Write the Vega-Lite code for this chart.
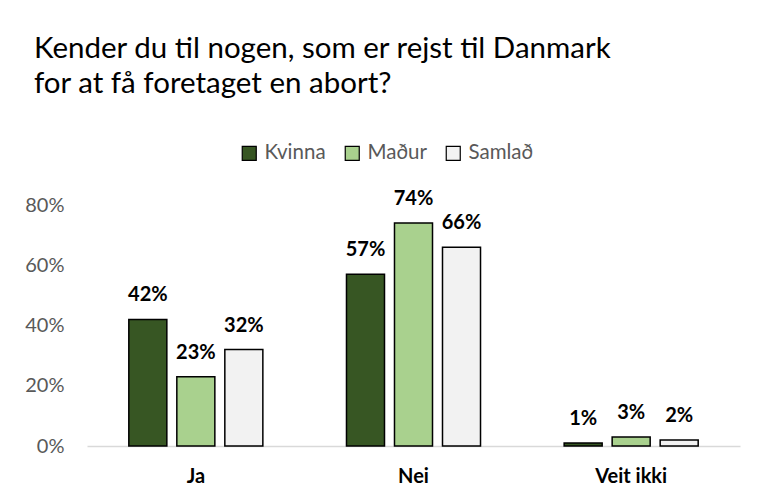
{
  "$schema": "https://vega.github.io/schema/vega-lite/v6.json",
  "width": 653,
  "height": 241,
  "autosize": "none",
  "padding": {"left": 87, "top": 205, "right": 20, "bottom": 57},
  "background": "white",
  "title": {
    "text": ["Kender du til nogen, som er rejst til Danmark", "for at få foretaget en abort?"],
    "anchor": "start",
    "frame": "group",
    "dx": -53,
    "offset": 44,
    "fontSize": 29.5,
    "font": "Lato",
    "fontWeight": "normal",
    "color": "#000000",
    "lineHeight": 35
  },
  "data": {
    "values": [
      {"svar": "Ja", "group": "Kvinna", "value": 0.42},
      {"svar": "Ja", "group": "Maður", "value": 0.23},
      {"svar": "Ja", "group": "Samlað", "value": 0.32},
      {"svar": "Nei", "group": "Kvinna", "value": 0.57},
      {"svar": "Nei", "group": "Maður", "value": 0.74},
      {"svar": "Nei", "group": "Samlað", "value": 0.66},
      {"svar": "Veit ikki", "group": "Kvinna", "value": 0.01},
      {"svar": "Veit ikki", "group": "Maður", "value": 0.03},
      {"svar": "Veit ikki", "group": "Samlað", "value": 0.02}
    ]
  },
  "encoding": {
    "x": {
      "field": "svar",
      "type": "nominal",
      "sort": null,
      "scale": {"paddingInner": 0, "paddingOuter": 0},
      "axis": {
        "title": null,
        "labelAngle": 0,
        "domainColor": "#d9d9d9",
        "domainWidth": 1.5,
        "ticks": false,
        "labelFont": "Lato",
        "labelFontWeight": "bold",
        "labelFontSize": 20,
        "labelColor": "#000000",
        "labelPadding": 20
      }
    },
    "xOffset": {
      "field": "group",
      "type": "nominal",
      "sort": ["Kvinna", "Maður", "Samlað"],
      "scale": {"paddingInner": 0.208, "paddingOuter": 0.871}
    },
    "y": {
      "field": "value",
      "type": "quantitative",
      "scale": {"domain": [0, 0.8]},
      "axis": {
        "title": null,
        "values": [0, 0.2, 0.4, 0.6, 0.8],
        "format": ".0%",
        "grid": false,
        "domain": false,
        "ticks": false,
        "labelFont": "Lato",
        "labelFontSize": 20,
        "labelColor": "#595959",
        "labelPadding": 23
      }
    }
  },
  "layer": [
    {
      "mark": {"type": "bar", "stroke": "#000000", "strokeWidth": 1.5},
      "encoding": {
        "fill": {
          "field": "group",
          "type": "nominal",
          "scale": {"domain": ["Kvinna", "Maður", "Samlað"], "range": ["#375623", "#a9d18e", "#f2f2f2"]},
          "legend": {
            "title": null,
            "orient": "none",
            "direction": "horizontal",
            "legendX": 152,
            "legendY": -62,
            "symbolType": "square",
            "symbolSize": 196,
            "symbolStrokeColor": "#000000",
            "symbolStrokeWidth": 1.2,
            "labelFont": "Lato",
            "labelFontSize": 20.5,
            "labelColor": "#595959",
            "labelOffset": 5,
            "columnPadding": 16
          }
        }
      }
    },
    {
      "mark": {"type": "text", "baseline": "alphabetic", "dy": -18, "font": "Lato", "fontWeight": "bold", "fontSize": 20, "color": "#000000"},
      "encoding": {
        "text": {"field": "value", "type": "quantitative", "format": ".0%"}
      }
    }
  ],
  "config": {"view": {"stroke": null}}
}
